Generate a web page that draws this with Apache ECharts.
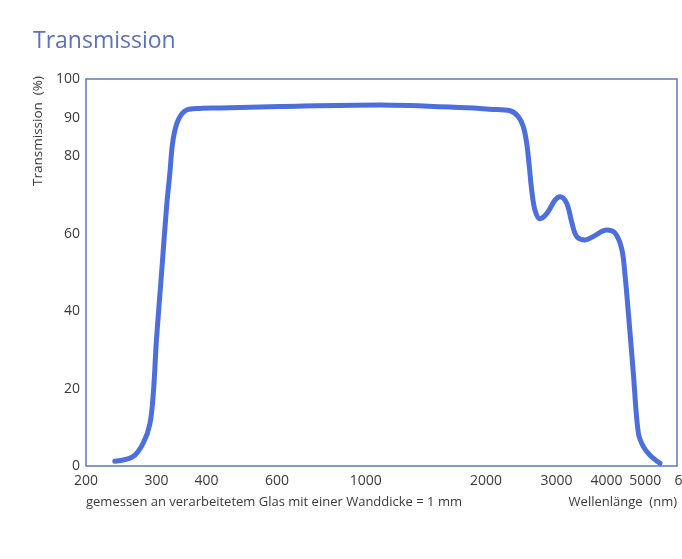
<!DOCTYPE html>
<html>
<head>
<meta charset="utf-8">
<script src="https://cdn.jsdelivr.net/npm/echarts@6/dist/echarts.min.js"></script>
<style>
html,body{margin:0;padding:0;background:#fff;}
#chart{width:682px;height:559px;}
</style>
</head>
<body>
<div id="chart"></div>
<script>
// Wavelength (nm) and transmission (%)
const wavelengths = [236, 262, 278, 289, 295, 300, 309, 318, 324, 330, 340, 357, 385, 432, 611, 1086, 1931,
  2045, 2295, 2407, 2477, 2527, 2565, 2600, 2650, 2727, 2835, 2973, 3060, 3180, 3274, 3369, 3534, 3706,
  4004, 4200, 4365, 4450, 4535, 4666, 4802, 4944, 5136, 5440];
const transmission = [1.2, 2.4, 5.9, 11.0, 19.6, 32.6, 49.9, 67.0, 75.6, 84.2, 89.4, 92.0, 92.4, 92.5, 92.9, 93.3, 92.4,
  92.2, 91.8, 90.3, 87.7, 83.3, 77.3, 71.3, 66.1, 63.9, 65.2, 68.7, 69.6, 67.9, 63.0, 59.3, 58.4, 59.3,
  61.0, 60.2, 56.1, 49.2, 39.6, 24.1, 8.6, 5.0, 2.8, 0.7];
const xTicks = [200, 300, 400, 600, 1000, 2000, 3000, 4000, 5000, 5999.9];
const yTicks = [0, 20, 40, 60, 80, 90, 100];

const titleText = 'Transmission';
const yName = 'Transmission  (%)';
const xName = 'Wellenlänge  (nm)';
const note = 'gemessen an verarbeitetem Glas mit einer Wanddicke = 1 mm';

const seriesData = wavelengths.map((w, i) => [w, transmission[i]]);

const FONT = '"Open Sans", "Noto Sans", sans-serif';
const TXT = '#3a3a3a';
const BORDER = '#5a78c4';
const LINE = '#4d6fdc';

const chart = echarts.init(document.getElementById('chart'), null, {renderer: 'canvas'});
chart.setOption({
  backgroundColor: '#ffffff',
  animation: false,
  grid: {
    left: 86, right: 5, top: 79, bottom: 93,
    outerBoundsMode: 'none',
    containLabel: false,
    show: true, borderColor: BORDER, borderWidth: 1.5, backgroundColor: 'transparent'
  },
  xAxis: {
    type: 'log', logBase: 10, min: 200, max: 6000,
    axisLine: {show: false},
    axisTick: {show: false},
    splitLine: {show: false},
    minorTick: {show: false},
    axisLabel: {
      customValues: xTicks,
      showMaxLabel: true,
      hideOverlap: false,
      color: TXT, fontFamily: FONT, fontSize: 14, margin: 8,
      formatter: function (v) {
        const r = Math.round(v);
        return r === 6000 ? '{r|6000}' : String(r);
      },
      rich: {
        r: {color: TXT, fontFamily: FONT, fontSize: 14, padding: [0, 0, 0, 27]}
      }
    }
  },
  yAxis: {
    type: 'value', min: 0, max: 100,
    axisLine: {show: false},
    axisTick: {show: false},
    splitLine: {show: false},
    axisLabel: {
      customValues: yTicks,
      color: TXT, fontFamily: FONT, fontSize: 14, margin: 6
    }
  },
  graphic: [
    {type: 'text', x: 33, y: 41, style: {text: titleText, fill: '#5a72b8', font: '23px ' + FONT, textAlign: 'left', textVerticalAlign: 'middle'}},
    {type: 'text', x: 38, y: 131, rotation: Math.PI / 2, style: {text: yName, fill: TXT, font: '13.5px ' + FONT, textAlign: 'center', textVerticalAlign: 'middle'}},
    {type: 'text', x: 86, y: 502, style: {text: note, fill: TXT, font: '13px ' + FONT, textAlign: 'left', textVerticalAlign: 'middle'}},
    {type: 'text', x: 677, y: 502, style: {text: xName, fill: TXT, font: '13px ' + FONT, textAlign: 'right', textVerticalAlign: 'middle'}}
  ],
  series: [{
    type: 'line',
    data: seriesData,
    showSymbol: false,
    smooth: 0.35,
    lineStyle: {color: LINE, width: 5, cap: 'round', join: 'round'},
    clip: false
  }]
});
</script>
</body>
</html>
